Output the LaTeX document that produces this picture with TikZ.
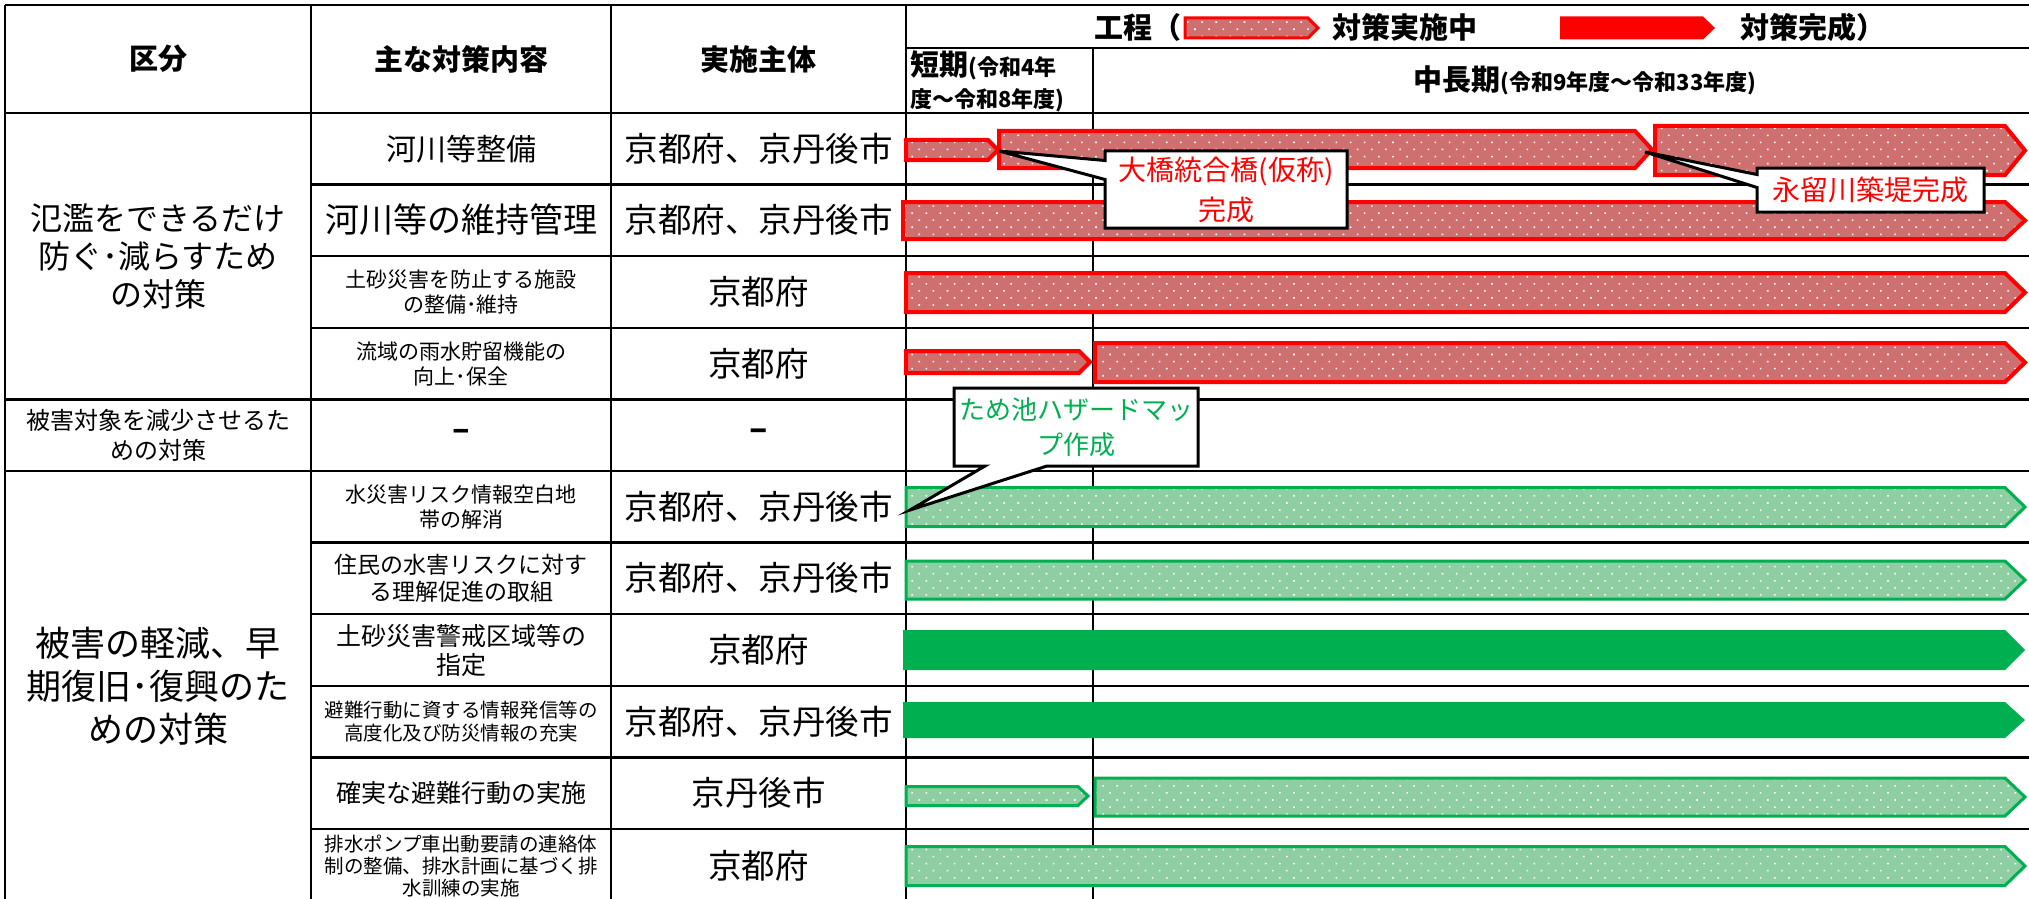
\documentclass[tikz,border=0pt]{standalone}
\usepackage{fontspec}
\setmainfont{Noto Sans CJK JP}
\usetikzlibrary{shapes.callouts,patterns.meta}
\definecolor{kred}{RGB}{255,0,0}
\definecolor{kgreen}{RGB}{0,176,80}
\definecolor{redhatch}{RGB}{206,112,112}
\definecolor{greenhatch}{RGB}{142,206,162}
\newcommand\jfs[2]{\fontsize{#1}{#2}\selectfont}

\begin{document}
\begin{tikzpicture}[x=0.5pt,y=-0.5pt,
   grid line/.style={line width=1.2pt,black},
   cell/.style={align=center,inner sep=0pt},
   head/.style={cell,font=\bfseries\jfs{14.5}{17}},
   redbar/.style={draw=kred,line width=2pt,preaction={fill=redhatch},
      pattern={Dots[distance=5pt,angle=45,radius=0.55pt]},pattern color=white},
   greenbar/.style={draw=kgreen,line width=1.5pt,preaction={fill=greenhatch},
      pattern={Dots[distance=5pt,angle=45,radius=0.55pt]},pattern color=white},
   donebar/.style={fill=kgreen},
   remark/.style={rectangle callout,draw,fill=white,line width=1.5pt,
      inner sep=0pt,align=center}]
\useasboundingbox (0,0) rectangle (2029,899);

% table lines
\draw[grid line] (5,5) -- (2029,5);
\draw[grid line] (906,48) -- (2029,48);
\draw[grid line] (5,113) -- (2029,113);
\foreach \yy in {184.6,256.2,327.8,542.6,614.2,685.8,757.4,829}
  \draw[grid line] (311,\yy) -- (2029,\yy);
\foreach \yy in {399.4,471}
  \draw[grid line] (5,\yy) -- (2029,\yy);
\foreach \xx in {5,311,611,906}
  \draw[grid line] (\xx,5) -- (\xx,905);
\draw[grid line] (1093,48) -- (1093,905);

% header
\node[head] (kubun) at (158,59) {区分};
\node[head] (naiyo) at (461,59) {主な対策内容};
\node[head] (shutai) at (758.5,59) {実施主体};
\node[head,anchor=west] (kotei) at (1094,27) {工程（};
\draw[redbar,line width=1.5pt] (1185,18) -- (1308,18) -- (1318,28) -- (1308,38) -- (1185,38) -- cycle;
\node[head,anchor=west] (jisshi) at (1332,27) {対策実施中};
\fill[kred] (1560,16.5) -- (1703,16.5) -- (1715,28) -- (1703,39.5) -- (1560,39.5) -- cycle;
\node[head,anchor=west] (kansei) at (1740,27) {対策完成）};
\node[cell,anchor=west,align=left,font=\bfseries\jfs{11}{16}] (tanki) at (910,81)
  {{\jfs{14.5}{16}短期}(令和4年\\度～令和8年度)};
\node[cell,font=\bfseries\jfs{11}{16}] (chuki) at (1585,80)
  {{\jfs{14.5}{16}中長期}(令和9年度～令和33年度)};

% first column
\node[cell,font=\jfs{16}{19}] (kind1) at (158,256) {氾濫をできるだけ\\防ぐ･減らすため\\の対策};
\node[cell,font=\jfs{12}{15}] (kind2) at (158,435) {被害対象を減少させるた\\めの対策};
\node[cell,font=\jfs{17.5}{21.5}] (kind3) at (158,686) {被害の軽減、早\\期復旧･復興のた\\めの対策};

% measures
\node[cell,font=\jfs{15}{18}] (act1) at (461,149) {河川等整備};
\node[cell,font=\jfs{17}{20}] (act2) at (461,220) {河川等の維持管理};
\node[cell,font=\jfs{10.5}{12.5}] (act3) at (461,292) {土砂災害を防止する施設\\の整備･維持};
\node[cell,font=\jfs{10.5}{12.5}] (act4) at (461,364) {流域の雨水貯留機能の\\向上･保全};
\node[cell,font=\bfseries\jfs{16}{18}] (act5) at (461,435) {–};
\node[cell,font=\jfs{10.5}{12.5}] (act6) at (461,507) {水災害リスク情報空白地\\帯の解消};
\node[cell,font=\jfs{11.5}{13.5}] (act7) at (461,578) {住民の水害リスクに対す\\る理解促進の取組};
\node[cell,font=\jfs{12.5}{14.5}] (act8) at (461,650) {土砂災害警戒区域等の\\指定};
\node[cell,font=\jfs{9.75}{11.5}] (act9) at (461,722) {避難行動に資する情報発信等の\\高度化及び防災情報の充実};
\node[cell,font=\jfs{12.5}{14.5}] (act10) at (461,793) {確実な避難行動の実施};
\node[cell,font=\jfs{9.75}{11}] (act11) at (461,866) {排水ポンプ車出動要請の連絡体\\制の整備、排水計画に基づく排\\水訓練の実施};

% bodies
\foreach \yy/\who [count=\i] in {149/京都府、京丹後市,220/京都府、京丹後市,292/京都府,364/京都府,
    435/{\bfseries –},507/京都府、京丹後市,578/京都府、京丹後市,650/京都府,722/京都府、京丹後市,793/京丹後市,866/京都府}
  \node[cell,font=\jfs{16.75}{20}] (org\i) at (758.5,\yy) {\who};

% schedule bars
\foreach \xa/\xb/\yc/\hh/\tp in {906/998/150/10/10,999/1652/149.5/18.5/17,1655/2025/150.5/24.5/20,
    903/2025/220.5/18.5/20,906/2025/292.5/19.5/20,906/1090/362/11/11,1095/2025/362.5/19.5/20}
  \draw[redbar] (\xa,\yc-\hh) -- (\xb-\tp,\yc-\hh) -- (\xb,\yc) -- (\xb-\tp,\yc+\hh) -- (\xa,\yc+\hh) -- cycle;
\foreach \xa/\xb/\yc/\hh/\tp in {906/2025/507/19.5/20,906/2025/580/19/20,906/1088/796/9.5/10,
    1095/2025/797/19/20,906/2025/866/19.5/20}
  \draw[greenbar] (\xa,\yc-\hh) -- (\xb-\tp,\yc-\hh) -- (\xb,\yc) -- (\xb-\tp,\yc+\hh) -- (\xa,\yc+\hh) -- cycle;
\foreach \xa/\xb/\yc/\hh/\tp in {903/2025/650/20/20,903/2025/720/18/20}
  \fill[donebar] (\xa,\yc-\hh) -- (\xb-\tp,\yc-\hh) -- (\xb,\yc) -- (\xb-\tp,\yc+\hh) -- (\xa,\yc+\hh) -- cycle;

% notes
\coordinate (tipA) at (999,151);
\coordinate (tipB) at (1645,152);
\coordinate (tipC) at (910,510);
\node[remark,minimum width=121pt,minimum height=38.5pt,callout absolute pointer={(tipA)},
  callout pointer width=9.5pt,text=kred,font=\jfs{14}{20}] (noteA) at (1226,189.5) {大橋統合橋(仮称)\\完成};
\node[remark,minimum width=113.5pt,minimum height=22pt,callout absolute pointer={(tipB)},
  callout pointer width=6.5pt,text=kred,font=\jfs{14}{20}] (noteB) at (1870.5,190) {永留川築堤完成};
\node[remark,minimum width=122pt,minimum height=39pt,callout absolute pointer={(tipC)},
  callout pointer width=31pt,text=kgreen,font=\jfs{13}{17.5}] (noteC) at (1076,427) {ため池ハザードマッ\\プ作成};
\end{tikzpicture}
\end{document}
